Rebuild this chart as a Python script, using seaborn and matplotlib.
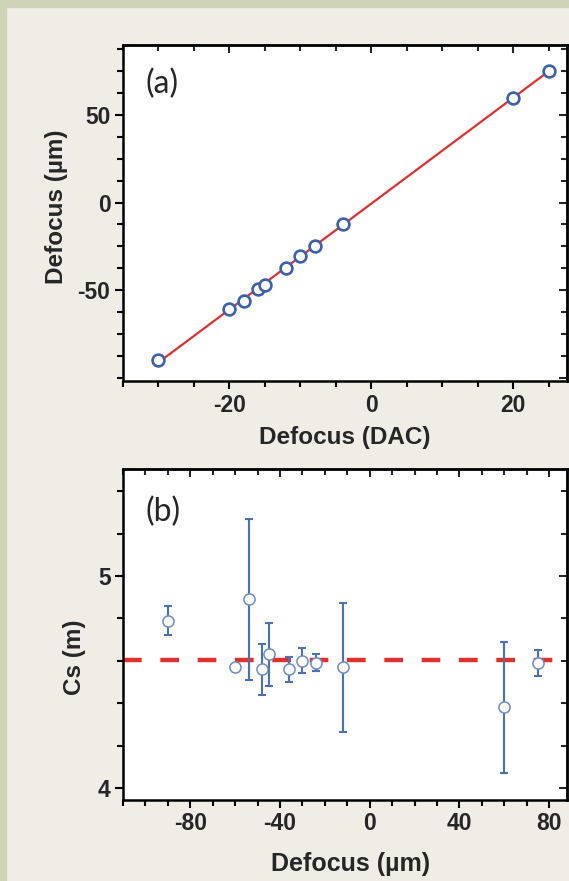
import numpy as np
import pandas as pd
import matplotlib
matplotlib.use("Agg")
import matplotlib.pyplot as plt
from matplotlib.ticker import MultipleLocator
from matplotlib.patches import Rectangle
import seaborn as sns

# ---------------- data ----------------
# panel (a): defocus calibration
dac = [-30, -20, -18, -16, -15, -12, -10, -8, -4, 20, 25]
defocus_um = [-90, -61, -56, -49.5, -47, -37.5, -30.5, -25, -12, 60, 75]

# panel (b): spherical aberration Cs vs defocus
cs_defocus = [-90, -60, -54, -48, -45, -36, -30, -24, -12, 60, 75]
cs_m = [4.79, 4.57, 4.89, 4.56, 4.63, 4.56, 4.60, 4.59, 4.57, 4.38, 4.59]
cs_err = [0.07, 0.01, 0.38, 0.12, 0.15, 0.06, 0.06, 0.04, 0.305, 0.31, 0.06]
cs_mean = 4.605

xticks_a = [-20, 0, 20]
yticks_a = [-50, 0, 50]
xticks_b = [-80, -40, 0, 40, 80]
yticks_b = [4, 5]

# ---------------- style ----------------
sns.set_theme(style="white")
plt.rcParams["font.family"] = ["Liberation Sans", "DejaVu Sans"]
plt.rcParams["axes.unicode_minus"] = False
plt.rcParams["axes.linewidth"] = 1.8

BG = "#efede6"
BORDER = "#cfd4b6"
BLUE_A = "#3a60b0"
BLUE_B = "#4a71b6"
RED = "#e0302c"

W, H = 569, 881
fig = plt.figure(figsize=(W / 100, H / 100), dpi=100, facecolor=BG)
fig.patches.append(Rectangle((0, 0), 6 / W, 1, transform=fig.transFigure,
                             color=BORDER, zorder=0))
fig.patches.append(Rectangle((0, 1 - 7 / H), 1, 7 / H, transform=fig.transFigure,
                             color=BORDER, zorder=0))


def px_axes(left, top, right, bottom):
    return fig.add_axes([left / W, 1 - bottom / H, (right - left) / W, (bottom - top) / H])


ax_a = px_axes(123, 45, 567, 381)
ax_b = px_axes(123, 469, 567, 800)

TICK_FS = 16.5
LABEL_FS = 17.5


def style_axes(ax, xmaj, xmin, ymaj, ymin, xlim, ylim, xt, yt):
    ax.set_facecolor("white")
    for s in ax.spines.values():
        s.set_color("black")
        s.set_linewidth(1.8)
    ax.set_xlim(*xlim)
    ax.set_ylim(*ylim)
    ax.xaxis.set_major_locator(MultipleLocator(xmaj))
    ax.xaxis.set_minor_locator(MultipleLocator(xmin))
    ax.yaxis.set_major_locator(MultipleLocator(ymaj))
    ax.yaxis.set_minor_locator(MultipleLocator(ymin))
    ax.set_xticks(xt)
    ax.set_yticks(yt)
    ax.tick_params(which="both", direction="out", color="black", width=1.5,
                   bottom=True, left=True, top=False, right=False)
    ax.tick_params(which="major", length=6, labelsize=TICK_FS, pad=3)
    ax.tick_params(which="minor", length=4)
    for lab in ax.get_xticklabels() + ax.get_yticklabels():
        lab.set_fontweight("bold")
        lab.set_family(["Liberation Sans", "DejaVu Sans"])
    # inward ticks on top and right
    sx = ax.secondary_xaxis("top")
    sx.xaxis.set_major_locator(MultipleLocator(xmaj))
    sx.xaxis.set_minor_locator(MultipleLocator(xmin))
    sx.tick_params(which="both", direction="in", width=1.5, labeltop=False)
    sx.tick_params(which="major", length=6)
    sx.tick_params(which="minor", length=4)
    sx.spines["top"].set_linewidth(1.8)
    sy = ax.secondary_yaxis("right")
    sy.yaxis.set_major_locator(MultipleLocator(ymaj))
    sy.yaxis.set_minor_locator(MultipleLocator(ymin))
    sy.tick_params(which="both", direction="in", width=1.5, labelright=False)
    sy.tick_params(which="major", length=6)
    sy.tick_params(which="minor", length=4)
    sy.spines["right"].set_linewidth(1.8)


# ---------------- panel (a) ----------------
df_a = pd.DataFrame({"dac": dac, "defocus": defocus_um})
slope, intercept = np.polyfit(df_a["dac"], df_a["defocus"], 1)
fit = pd.DataFrame({"dac": [min(dac), max(dac)]})
fit["defocus"] = slope * fit["dac"] + intercept

sns.lineplot(data=fit, x="dac", y="defocus", ax=ax_a, color=RED, lw=1.6, zorder=2)
sns.scatterplot(data=df_a, x="dac", y="defocus", ax=ax_a, marker="o", s=72,
                facecolor="white", edgecolor=BLUE_A, linewidth=1.9, zorder=3)
style_axes(ax_a, 20, 5, 50, 12.5, (-35, 27.6), (-102, 90), xticks_a, yticks_a)
ax_a.set_xlabel("Defocus (DAC)", fontsize=LABEL_FS, fontweight="bold")
ax_a.set_ylabel("Defocus (µm)", fontsize=LABEL_FS, fontweight="bold")
ax_a.xaxis.set_label_coords(0.50, -0.167)
ax_a.xaxis.label.set_verticalalignment("center")
ax_a.yaxis.set_label_coords(-0.149, 0.52)
ax_a.yaxis.label.set_verticalalignment("center")
ax_a.text(0.05, 0.885, "(a)", transform=ax_a.transAxes, fontsize=23,
          family=["Lato", "DejaVu Sans"], va="center", ha="left")

# ---------------- panel (b) ----------------
df_b = pd.DataFrame({"defocus": cs_defocus, "cs": cs_m, "err": cs_err})
ax_b.axhline(cs_mean, color=RED, lw=3.2, dashes=(4.2, 4.2), zorder=1)
ax_b.errorbar(df_b["defocus"], df_b["cs"], yerr=df_b["err"], fmt="none",
              ecolor=BLUE_B, elinewidth=1.5, capsize=3.2, capthick=1.5, zorder=2)
sns.scatterplot(data=df_b, x="defocus", y="cs", ax=ax_b, marker="o", s=64,
                facecolor="white", edgecolor="#6a8bc6", linewidth=1.1, zorder=3)
style_axes(ax_b, 40, 10, 1, 0.2, (-110, 88), (3.943, 5.505), xticks_b, yticks_b)
ax_b.set_xlabel("Defocus (µm)", fontsize=LABEL_FS + 0.5, fontweight="bold")
ax_b.set_ylabel("Cs (m)", fontsize=LABEL_FS, fontweight="bold")
ax_b.xaxis.set_label_coords(0.512, -0.193)
ax_b.xaxis.label.set_verticalalignment("center")
ax_b.yaxis.set_label_coords(-0.11, 0.43)
ax_b.yaxis.label.set_verticalalignment("center")
ax_b.text(0.05, 0.87, "(b)", transform=ax_b.transAxes, fontsize=23,
          family=["Lato", "DejaVu Sans"], va="center", ha="left")

fig.savefig("out.png", dpi=100, facecolor=BG)
